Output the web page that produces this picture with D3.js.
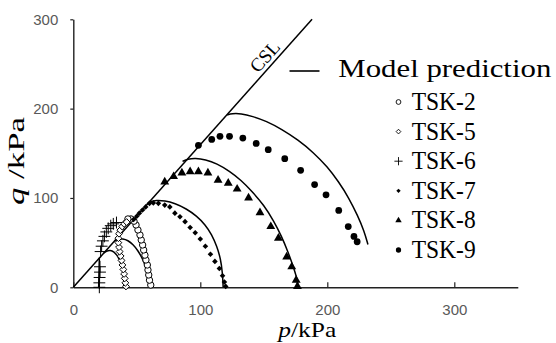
<!DOCTYPE html>
<html>
<head>
<meta charset="utf-8">
<script src="https://cdn.jsdelivr.net/npm/d3@7"></script>
<style>
  body { margin: 0; background: #fff; }
  svg { display: block; }
</style>
</head>
<body>
<svg id="chart" width="556" height="343"></svg>
<script>
// ---- data (p, q in kPa) ----
const pTicks = [0, 100, 200, 300];
const qTicks = [0, 100, 200, 300];
const cslLine = [[0, 0], [188, 300]];

const tsk2 = [[61, 2.5], [60, 8], [59.4, 13.8], [58.8, 19.4], [58.3, 25], [57.2, 30.6], [56.4, 36], [55.4, 41.8],
  [54.6, 47.4], [53.5, 53], [52.5, 58.6], [50.9, 64.2], [49.4, 69.8], [47.8, 74], [45.4, 76.5], [43, 76.5]];
const tsk5 = [[41.5, 1], [41, 5], [40.5, 10], [40, 15], [39.4, 20], [38.7, 25], [38, 30], [37.3, 35], [36.5, 40],
  [36, 45], [35.5, 50], [35.5, 55], [36, 60], [37, 64], [38.5, 68], [40, 71], [42, 73]];
const tsk6 = [[20.5, 0], [20.5, 5], [20.7, 11], [21, 17], [21, 23], [21.5, 40], [22.3, 46], [23.3, 52],
  [24.5, 57], [26, 62], [27.5, 66], [29.5, 69], [31.5, 71], [34, 72.5]];
const tsk7 = [[120, 1], [119, 6], [117.5, 13], [115, 21], [111.5, 29], [108, 37], [104, 46], [100, 54], [96, 61],
  [92, 67], [88, 73.5], [84, 79], [80, 83], [76, 90], [72, 92], [67, 94], [63, 94.5], [60, 94], [57, 90],
  [54.5, 86.5], [52, 83], [50, 79.5], [47.5, 76]];
const tsk8 = [[176.5, 1], [175.5, 8], [172, 23], [168, 34], [161.5, 55], [155.5, 68], [147, 83.5], [138, 100],
  [129, 110], [122, 116.5], [114, 120], [106, 128], [98.5, 129.5], [92, 129.5], [85.5, 128], [79, 124], [72, 118]];
const tsk9 = [[98.5, 159], [109, 165.5], [115.5, 169], [123, 169], [133.5, 167], [144, 161], [153.5, 154],
  [166.5, 144], [179, 131], [190, 115], [199, 103.5], [209, 86], [216.5, 68], [221, 57], [223.5, 51]];

// model prediction curves
const model6 = [[20.5, 33], [20.3, 20], [20.1, 10], [20, 0]];
const model5 = [[24, 38.5], [26, 40.5], [29, 41.5], [32, 40], [35, 35], [37.5, 27], [39, 18], [39.8, 9], [40, 0]];
const model2 = [[32.5, 52], [35.5, 54], [39, 54.5], [43, 52.5], [47, 48], [51, 41], [54.5, 32], [57.5, 21], [59.3, 10], [60, 0]];
const model7 = [[58, 93], [61, 96], [65, 97.5], [72, 97], [80, 94], [89, 88], [97, 80], [104, 70], [109, 59],
  [113, 46], [116, 32], [117.5, 16], [118, 0]];
const model8 = [[86, 141], [90, 143.5], [96, 144.5], [104, 143], [113, 138.5], [123, 130], [132, 120], [141, 107],
  [150, 92], [158, 74], [164, 57], [169, 40], [173, 24], [176, 11], [177, 0]];
const model9 = [[121, 193], [125, 194.5], [132, 194.5], [141, 191.5], [152, 186], [164, 177], [177, 165],
  [189, 151], [200, 135], [209, 118], [217, 100], [224, 80], [229, 63], [232, 48]];

const seriesNames = ["TSK-2", "TSK-5", "TSK-6", "TSK-7", "TSK-8", "TSK-9"];

// ---- layout ----
var svg = d3.select("#chart");
var x = d3.scaleLinear().domain([0, 350]).range([73.3, 517.8]);
var y = d3.scaleLinear().domain([0, 300]).range([287.3, 19.3]);

var serif = "'Liberation Serif', 'Times New Roman', serif";

// axes
var xAxis = svg.append("g")
  .attr("transform", "translate(0," + y(0) + ")")
  .call(d3.axisBottom(x).tickValues(pTicks).tickSizeInner(-5).tickSizeOuter(0).tickPadding(17.5));
var yAxis = svg.append("g")
  .attr("transform", "translate(" + x(0) + ",0)")
  .call(d3.axisLeft(y).tickValues(qTicks).tickSizeInner(3).tickSizeOuter(0).tickPadding(12));

[xAxis, yAxis].forEach(function (g) {
  g.select(".domain").attr("stroke", "#222").attr("stroke-width", 1.4);
  g.selectAll(".tick line").attr("stroke", "#222").attr("stroke-width", 1.2);
  g.selectAll(".tick text")
    .attr("fill", "#595959")
    .style("font-family", "'Liberation Sans', Arial, sans-serif")
    .style("font-size", "15px");
});

// axis titles
var xt = svg.append("text")
  .attr("x", 278.3).attr("y", 336.5)
  .attr("textLength", 58).attr("lengthAdjust", "spacingAndGlyphs")
  .style("font-family", serif).style("font-size", "21px");
xt.append("tspan").style("font-style", "italic").text("p");
xt.append("tspan").text("/kPa");

var yt = svg.append("text")
  .attr("transform", "translate(24,205) rotate(-90)")
  .attr("textLength", 88).attr("lengthAdjust", "spacingAndGlyphs")
  .style("font-family", serif).style("font-size", "23px");
yt.append("tspan").style("font-style", "italic").text("q");
yt.append("tspan").text(" /kPa");

// CSL
var line = d3.line().x(d => x(d[0])).y(d => y(d[1]));
svg.append("path").datum(cslLine)
  .attr("d", line).attr("fill", "none").attr("stroke", "#000").attr("stroke-width", 1.5);

var ang = Math.atan2(y(0) - y(cslLine[1][1]), x(cslLine[1][0]) - x(0)) * 180 / Math.PI;
var cslAt = 157;
svg.append("text")
  .attr("transform", "translate(" + x(cslAt) + "," + y(cslAt * cslLine[1][1] / cslLine[1][0]) + ") rotate(" + (-ang) + ")")
  .attr("text-anchor", "middle").attr("dy", -4)
  .style("font-family", serif).style("font-size", "19px")
  .text("CSL");

// model prediction lines
var curve = d3.line().x(d => x(d[0])).y(d => y(d[1])).curve(d3.curveBasis);
[model6, model5, model2, model7, model8, model9].forEach(function (m) {
  svg.append("path").datum(m)
    .attr("d", curve).attr("fill", "none").attr("stroke", "#000").attr("stroke-width", 1.5);
});

// markers
var marks = [
  { data: tsk2, type: d3.symbolCircle, size: 32, fill: "#fff", stroke: "#000", lsize: 18 },
  { data: tsk5, type: d3.symbolDiamond2, size: 30, fill: "#fff", stroke: "#000", lsize: 14 },
  { data: tsk6, type: d3.symbolPlus, size: 48, fill: "none", stroke: "#000", lsize: 24 },
  { data: tsk7, type: d3.symbolDiamond2, size: 20, fill: "#000", stroke: "none", lsize: 12 },
  { data: tsk8, type: d3.symbolTriangle, size: 34, fill: "#000", stroke: "none", lsize: 18 },
  { data: tsk9, type: d3.symbolCircle, size: 36, fill: "#000", stroke: "none", lsize: 22 }
];

marks.forEach(function (s) {
  svg.append("g").selectAll("path")
    .data(s.data)
    .enter().append("path")
    .attr("transform", d => "translate(" + x(d[0]) + "," + y(d[1]) + ")")
    .attr("d", d3.symbol().type(s.type).size(s.size))
    .attr("fill", s.fill)
    .attr("stroke", s.stroke)
    .attr("stroke-width", 1);
});

// legend
var leg = svg.append("g");
leg.append("line")
  .attr("x1", 289.5).attr("x2", 319.5).attr("y1", 71).attr("y2", 71)
  .attr("stroke", "#000").attr("stroke-width", 1.6);
leg.append("text")
  .attr("x", 338.3).attr("y", 77.3)
  .attr("textLength", 213).attr("lengthAdjust", "spacingAndGlyphs")
  .style("font-family", serif).style("font-size", "26px")
  .text("Model prediction");

seriesNames.forEach(function (name, i) {
  var s = marks[i];
  var yy = 110 + i * 29.6;
  leg.append("path")
    .attr("transform", "translate(398.5," + (yy - 8) + ")")
    .attr("d", d3.symbol().type(s.type).size(s.lsize))
    .attr("fill", s.fill)
    .attr("stroke", s.stroke)
    .attr("stroke-width", 0.9);
  leg.append("text")
    .attr("x", 411.7).attr("y", yy)
    .attr("textLength", 64).attr("lengthAdjust", "spacingAndGlyphs")
    .style("font-family", serif).style("font-size", "25px")
    .text(name);
});
</script>
</body>
</html>
